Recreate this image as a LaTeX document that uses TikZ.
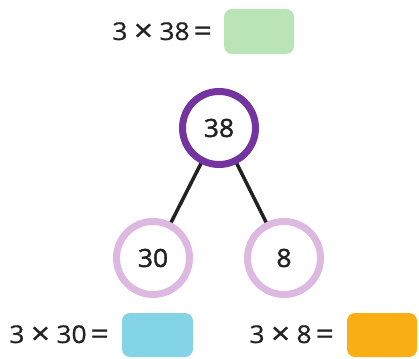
\documentclass[tikz,border=0pt]{standalone}
\usepackage{fontspec}
\setmainfont{Open Sans}
\newfontfamily\eqfont[FakeBold=0.6,FakeStretch=1.08]{Open Sans}
\newfontfamily\circfont[FakeBold=1.6,FakeStretch=1.06]{Open Sans}
\definecolor{boxgreen}{HTML}{B9E4B5}
\definecolor{boxblue}{HTML}{82D4E6}
\definecolor{boxorange}{HTML}{F9AE14}
\definecolor{darkpurple}{HTML}{7434A0}
\definecolor{lightpink}{HTML}{DDB9E2}
\definecolor{txt}{HTML}{222222}
\newcommand{\timessign}{\hspace{6.5pt}\raisebox{-1.3pt}{\scalebox{1.25}{×}}\hspace{6.5pt}}
\newcommand{\eqsign}{\hspace{4pt}\raisebox{-1pt}{\scalebox{1.2}{=}}}
\tikzset{
  eqtext/.style={font=\eqfont\fontsize{24.5}{30}\selectfont, text=txt, inner sep=0pt, anchor=base east},
  answerbox/.style={rounded corners=8pt, draw=none},
  numcircle/.style={circle, minimum size=73pt, line width=7pt, fill=white, font=\circfont\fontsize{25}{30}\selectfont, text=txt, inner sep=0pt},
  link/.style={line width=3.5pt, draw=txt}
}
\begin{document}
\begin{tikzpicture}[x=1pt,y=-1pt]
\useasboundingbox (0,0) rectangle (419,358);
% top equation
\node[eqtext] (eqtop) at (212,40) {3\timessign 38\eqsign};
\fill[boxgreen, answerbox] (224,9) rectangle (294,54);
% tree
\node[numcircle, draw=darkpurple] (n38) at (219,128) {38};
\node[numcircle, draw=lightpink] (n30) at (153,258) {30};
\node[numcircle, draw=lightpink] (n8) at (284,258) {8};
\draw[link] (n38) -- (n30);
\draw[link] (n38) -- (n8);
% bottom equations
\node[eqtext] (eqleft) at (109,343) {3\timessign 30\eqsign};
\fill[boxblue, answerbox] (122,313) rectangle (193,357);
\node[eqtext] (eqright) at (334,343) {3\timessign 8\eqsign};
\fill[boxorange, answerbox] (347,313) rectangle (417,357);
\end{tikzpicture}
\end{document}
